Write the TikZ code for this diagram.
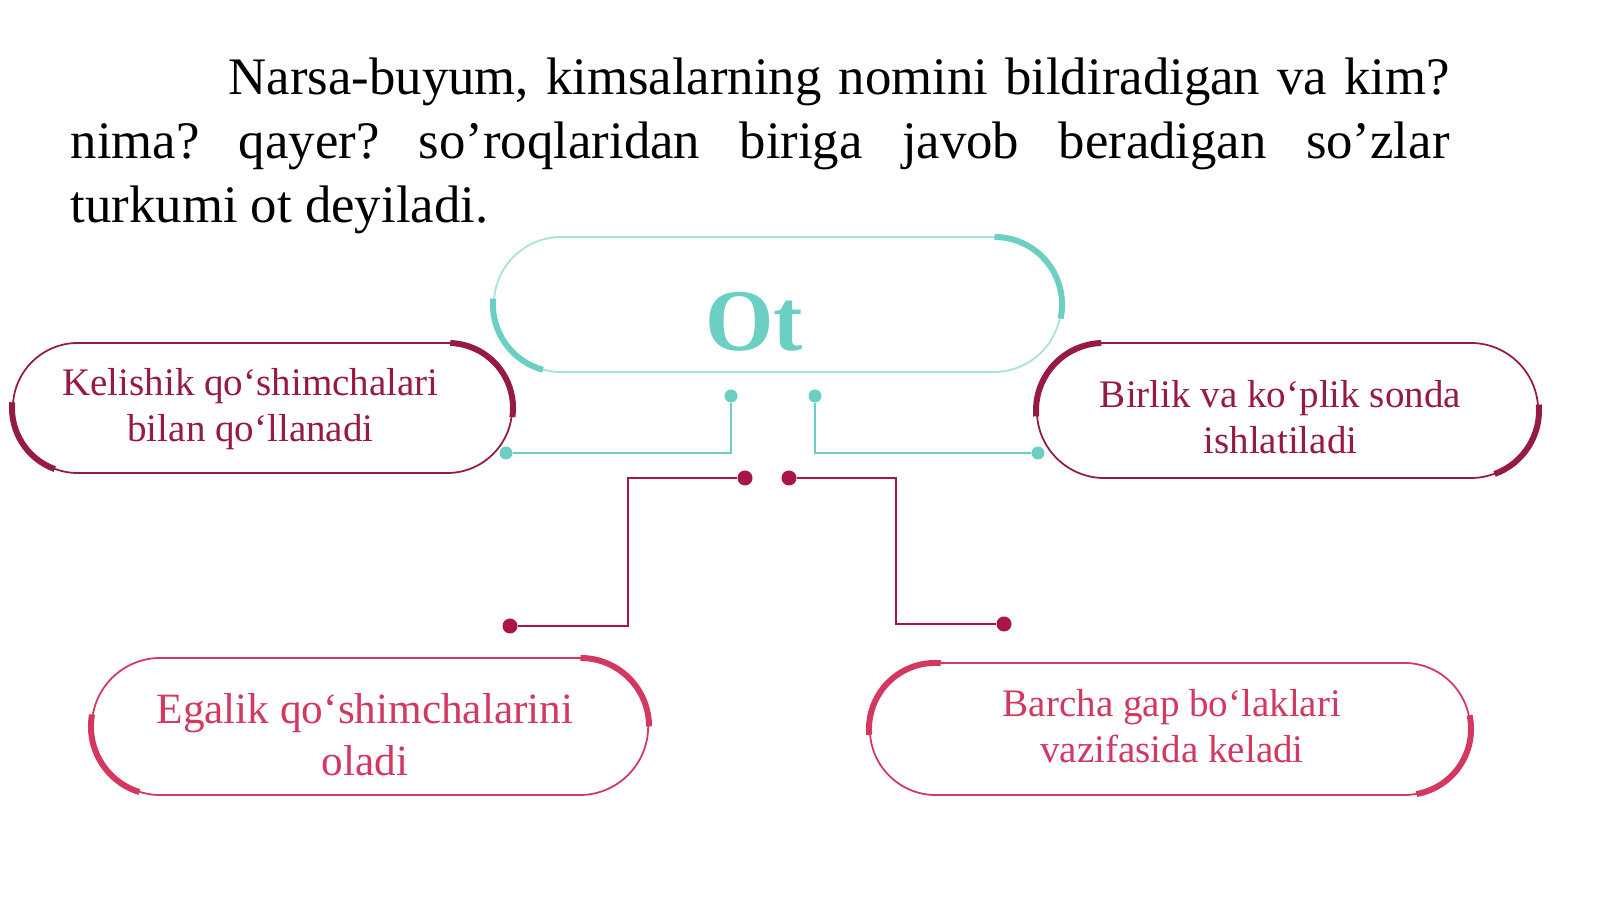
\documentclass[tikz,border=0pt]{standalone}
\usepackage{fontspec}
\setmainfont{Liberation Serif}
\usepackage{tikz}

\definecolor{otteal}{RGB}{108,207,196}
\definecolor{otmaroon}{RGB}{150,26,72}
\definecolor{otrose}{RGB}{210,56,96}
\definecolor{otcrimson}{RGB}{168,22,72}

% thick arcs on the round ends of a pill
\newcommand{\rightcap}[5]{\draw[accent, #5] ([xshift=-#2]#1.east) ++(#3:#2) arc[start angle=#3, end angle=#4, radius=#2];}
\newcommand{\leftcap}[5]{\draw[accent, #5] ([xshift=#2]#1.west) ++(#3:#2) arc[start angle=#3, end angle=#4, radius=#2];}

\begin{document}
\frenchspacing
\begin{tikzpicture}[
    x=0.01cm, y=0.01cm,
    pill/.style={
      rectangle,
      draw,
      line width=0.5pt,
      inner sep=0pt,
      minimum height=2*#1,
      rounded corners=#1
    },
    accent/.style={line width=1.7pt},
    boxtext/.style={align=center, font=\fontsize{11.1}{13.1}\selectfont},
    ottext/.style={
      text=otteal,
      font=\fontsize{25}{30}\selectfont\bfseries
    },
    tdot/.style={circle, fill=otteal, inner sep=0pt, minimum size=0.13cm},
    cdot/.style={circle, fill=otcrimson, inner sep=0pt, minimum size=0.15cm},
    tline/.style={draw=otteal, line width=0.8pt},
    cline/.style={draw=otcrimson, line width=0.8pt}
]

    \path [use as bounding box, fill=white] (0,0) rectangle (1600,900);

    % Definition
    \node [anchor=base west, inner sep=0pt, text width=13.78cm, align=justify,
           font=\fontsize{15}{18.07}\selectfont] (def) at (70,805)
      {\hspace*{1.58cm}Narsa-buyum, kimsalarning nomini bildiradigan va kim?\linebreak
       nima? qayer? so’roqlaridan biriga javob beradigan so’zlar\linebreak
       turkumi ot deyiladi.};

    % Nodes
    \node [pill=0.675cm, draw=otteal!60, minimum width=5.67cm,
           label={[ottext, xshift=-0.235cm, yshift=-0.175cm]center:Ot}] (ot) at (777.5,595.5) {};
    \node [pill=0.65cm, draw=otmaroon, minimum width=4.99cm,
           label={[boxtext, text=otmaroon, xshift=-0.12cm, yshift=-0.01cm]center:{Kelishik qo‘shimchalari\\bilan qo‘llanadi}}]
           (kel) at (262.5,492) {};
    \node [pill=0.675cm, draw=otmaroon, minimum width=5.01cm,
           label={[boxtext, text=otmaroon, xshift=-0.07cm, yshift=-0.07cm]center:{Birlik va ko‘plik sonda\\ishlatiladi}}]
           (bir) at (1287.5,489.5) {};
    \node [pill=0.685cm, draw=otrose, minimum width=5.56cm,
           label={[boxtext, text=otrose, font=\fontsize{12.3}{14.8}\selectfont, xshift=-0.05cm, yshift=-0.08cm]center:{Egalik qo‘shimchalarini\\oladi}}]
           (ega) at (370,173.5) {};
    \node [pill=0.66cm, draw=otrose, minimum width=6cm,
           label={[boxtext, text=otrose, xshift=0.02cm, yshift=0.03cm]center:{Barcha gap bo‘laklari\\vazifasida keladi}}]
           (bar) at (1170,171) {};

    % Accents
    \rightcap{ot}{0.675cm}{90}{-12}{otteal}
    \leftcap{ot}{0.675cm}{175}{255}{otteal}
    \rightcap{kel}{0.65cm}{88}{-8}{otmaroon}
    \leftcap{kel}{0.65cm}{175}{250}{otmaroon}
    \leftcap{bir}{0.675cm}{92}{185}{otmaroon}
    \rightcap{bir}{0.675cm}{5}{-70}{otmaroon}
    \rightcap{ega}{0.685cm}{90}{0}{otrose}
    \leftcap{ega}{0.685cm}{170}{253}{otrose}
    \leftcap{bar}{0.66cm}{85}{185}{otrose}
    \rightcap{bar}{0.66cm}{12}{-80}{otrose}

    % Dots
    \node [tdot] (tl1) at (731,504) {};
    \node [tdot] (tl2) at (506,447) {};
    \node [tdot] (tr1) at (815,504) {};
    \node [tdot] (tr2) at (1038,447) {};
    \node [cdot] (cl1) at (745,422) {};
    \node [cdot] (cl2) at (510,274) {};
    \node [cdot] (cr1) at (789,422) {};
    \node [cdot] (cr2) at (1004,276) {};

    % Edges
    \path [tline] (tl1) |- (tl2);
    \path [tline] (tr1) |- (tr2);
    \path [cline] (cl1) -| ([xshift=1.18cm]cl2.center) -- (cl2);
    \path [cline] (cr1) -| ([xshift=-1.08cm]cr2.center) -- (cr2);

\end{tikzpicture}
\end{document}
